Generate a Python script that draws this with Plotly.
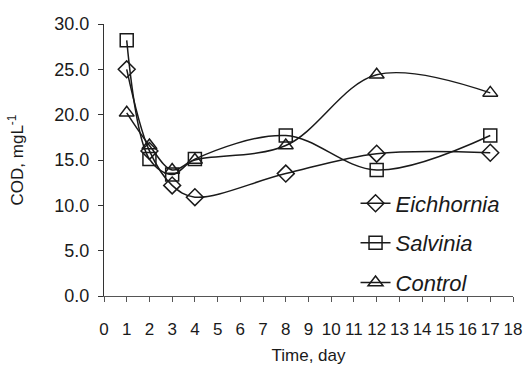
import plotly.graph_objects as go

days = [1, 2, 3, 4, 8, 12, 17]
eichhornia = [25.0, 16.0, 12.2, 10.9, 13.5, 15.7, 15.8]
salvinia = [28.2, 15.1, 13.4, 15.1, 17.7, 13.9, 17.7]
control = [20.2, 16.6, 13.9, 15.0, 16.6, 24.4, 22.4]

x_ticks = list(range(0, 19))
y_ticks = [0, 5, 10, 15, 20, 25, 30]
y_tick_text = [f"{v:.1f}" for v in y_ticks]

series = [
    ("Eichhornia", eichhornia, "diamond-open"),
    ("Salvinia", salvinia, "square-open"),
    ("Control", control, "triangle-up-open"),
]

ink = "#1a1a1a"

fig = go.Figure()
for name, values, symbol in series:
    fig.add_trace(go.Scatter(
        x=days, y=values, name=name, legendgroup=name,
        mode="lines+markers",
        line=dict(color=ink, width=1.5, shape="spline", smoothing=1.0),
        marker=dict(symbol=symbol, size=13, color=ink,
                    line=dict(width=1.5, color=ink)),
        cliponaxis=False,
    ))

fig.update_layout(
    width=523, height=368,
    margin=dict(l=104, r=10, t=24, b=72),
    paper_bgcolor="white", plot_bgcolor="white",
    font=dict(family="Liberation Sans, Arial, sans-serif", color=ink, size=17),
    showlegend=True,
    legend=dict(
        x=0.615, y=0.195, xanchor="left", yanchor="middle",
        font=dict(size=22, style="italic"),
        bgcolor="rgba(0,0,0,0)", tracegroupgap=8,
    ),
    xaxis=dict(
        range=[0, 18], tickmode="array", tickvals=x_ticks,
        ticks="outside", ticklen=5, tickcolor="#555",
        showline=True, linecolor="#555", linewidth=1,
        showgrid=False, zeroline=False, automargin=False,
        ticklabelstandoff=13,
        tickfont=dict(size=17),
        title=dict(text="Time, day", font=dict(size=17), standoff=10),
    ),
    yaxis=dict(
        range=[0, 30], tickmode="array", tickvals=y_ticks, ticktext=y_tick_text,
        ticks="outside", ticklen=5, tickcolor="#333",
        showline=True, linecolor="#333", linewidth=1,
        showgrid=False, zeroline=False, automargin=False,
        ticklabelstandoff=5,
        tickfont=dict(size=18),
        title=dict(text="COD, mgL<sup>-1</sup>", font=dict(size=17), standoff=26),
    ),
)

fig.write_html("out.html")
